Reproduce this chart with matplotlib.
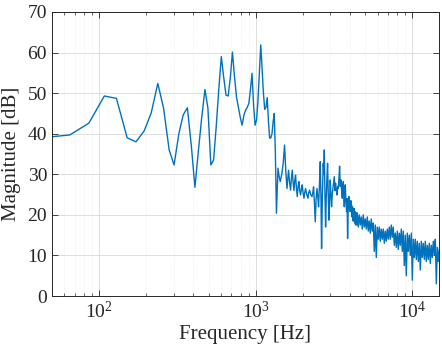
import numpy as np
import matplotlib
matplotlib.use("Agg")
import matplotlib.pyplot as plt
from matplotlib.ticker import LogLocator, MultipleLocator

plt.rcParams['font.family'] = ['Liberation Serif', 'DejaVu Serif']
plt.rcParams['mathtext.fontset'] = 'custom'
plt.rcParams['mathtext.rm'] = 'Liberation Serif'
plt.rcParams['mathtext.it'] = 'Liberation Serif:italic'

# low frequency part (coarse FFT bins)
freq_low = [43, 65, 86, 108, 129, 151, 172, 194, 215, 237, 258, 280, 301, 323, 344,
            366, 388, 409, 431, 452, 474, 495, 517, 538, 560, 581, 603, 624, 646, 667,
            689, 710, 732, 754, 775, 797, 818, 840, 861, 883, 904, 926, 947, 969, 990,
            1012, 1033, 1055, 1077, 1098, 1120, 1141, 1163, 1184, 1206, 1227, 1249,
            1270, 1292, 1313, 1335, 1356]
mag_low = [39.0, 39.7, 42.6, 49.3, 48.7, 39.0, 38.0, 40.7, 45.1, 52.4, 46.3, 36.0,
           32.3, 40.0, 44.6, 46.4, 37.0, 26.8, 36.0, 44.0, 50.9, 46.3, 32.3, 33.5,
           42.0, 51.0, 59.0, 54.0, 49.5, 49.3, 54.0, 60.1, 54.0, 49.0, 46.5, 44.0,
           42.1, 44.5, 45.8, 46.5, 47.5, 51.0, 54.9, 47.0, 42.1, 43.4, 48.0, 55.0,
           61.9, 56.0, 50.0, 46.0, 46.5, 48.9, 43.0, 38.9, 39.0, 40.0, 43.0, 45.0,
           35.0, 20.4]

# mid part (1.4 - 4.4 kHz)
freq_mid = [1387, 1410, 1434, 1471, 1500, 1528, 1555, 1583, 1620, 1645, 1669, 1690,
            1711, 1733, 1754, 1775, 1796, 1820, 1842, 1865, 1888, 1910, 1933, 1960,
            1982, 2005, 2032, 2055, 2081, 2118, 2156, 2180, 2208, 2245, 2287, 2315,
            2341, 2370, 2400, 2430, 2461, 2490, 2519, 2550, 2583, 2610, 2633, 2665,
            2700, 2720, 2740, 2765, 2793, 2820, 2851, 2876, 2905, 2935, 2962, 2992,
            3020, 3050, 3080, 3113, 3145, 3174, 3205, 3235, 3270, 3303, 3335, 3367,
            3400, 3432, 3467, 3503, 3535, 3571, 3598, 3624, 3650, 3677, 3705, 3732,
            3768, 3804, 3832, 3860, 3900, 3940, 3978, 4016, 4050, 4093, 4120, 4150,
            4185, 4216, 4240, 4260, 4285, 4304, 4340, 4370, 4410]
mag_mid = [31.5, 29.5, 28.2, 30.3, 33.0, 37.2, 31.0, 26.5, 31.0, 28.0, 26.1, 29.0,
           31.0, 28.0, 26.0, 28.5, 29.8, 26.5, 24.5, 27.0, 28.2, 26.0, 24.9, 26.5,
           27.4, 25.5, 24.1, 25.5, 26.5, 25.0, 24.1, 25.5, 26.1, 25.0, 24.5, 25.5,
           26.9, 23.0, 18.3, 24.0, 26.5, 24.5, 22.0, 27.0, 33.1, 24.0, 11.7, 25.0,
           32.7, 30.0, 36.0, 26.0, 17.0, 24.0, 29.4, 32.7, 25.0, 18.7, 24.0, 28.6,
           25.0, 22.0, 25.0, 26.5, 28.0, 29.4, 26.0, 27.8, 26.0, 24.9, 27.0, 26.5,
           29.0, 32.0, 27.0, 28.6, 26.0, 24.1, 27.0, 28.2, 25.0, 22.0, 26.0, 27.4,
           23.0, 20.8, 24.0, 14.2, 23.0, 24.5, 21.0, 20.8, 23.5, 22.4, 19.5, 22.0,
           18.5, 21.5, 18.5, 21.5, 18.0, 20.8, 17.5, 20.5, 17.5]

# high part (dense band)
freq_high = [4451, 4517, 4584, 4652, 4721, 4791, 4862, 4934, 5007, 5081, 5156, 5233,
             5311, 5390, 5469, 5550, 5633, 5716, 5801, 5887, 5974, 6062, 6152, 6243,
             6336, 6430, 6525, 6622, 6720, 6819, 6920, 7023, 7127, 7232, 7339, 7448,
             7558, 7671, 7784, 7900, 8017, 8136, 8256, 8378, 8502, 8628, 8756, 8887,
             9018, 9152, 9288, 9425, 9566, 9707, 9851, 9997, 10145, 10295, 10447,
             10602, 10759, 10918, 11080, 11244, 11410, 11579, 11750, 11927, 12102,
             12281, 12463, 12648, 12837, 13027, 13220, 13415, 13614, 13817, 14021,
             14229, 14439, 14653, 14872]
mag_high = [20.5, 17.0, 20.0, 17.5, 19.5, 16.5, 20.0, 17.0, 19.0, 16.5, 19.5, 16.0,
            18.5, 15.5, 19.0, 16.0, 18.0, 11.0, 17.5, 9.5, 17.0, 14.0, 17.0, 13.5,
            16.5, 14.0, 16.5, 13.0, 16.0, 13.5, 16.5, 14.0, 17.0, 14.0, 17.5, 14.5,
            17.0, 12.5, 15.5, 12.0, 16.0, 11.5, 15.5, 12.5, 16.5, 11.0, 16.0, 7.5,
            15.0, 5.0, 15.5, 11.0, 15.0, 10.0, 15.5, 3.9, 14.0, 9.5, 14.0, 9.0,
            13.5, 8.5, 13.0, 6.4, 13.5, 9.5, 13.0, 9.0, 13.5, 8.5, 12.5, 9.0,
            13.0, 8.0, 12.5, 9.5, 13.5, 10.0, 14.0, 3.0, 12.0, 8.5, 11.5]

freq = freq_low + freq_mid + freq_high
mag = mag_low + mag_mid + mag_high

fig = plt.figure(figsize=(4.42, 3.61), dpi=100)
ax = fig.add_axes([0.1176, 0.180, 0.8756, 0.7868])

ax.semilogx(freq, mag, color='#0072BD', lw=1.0)

ax.set_xlim(50, 14800)
ax.set_ylim(0, 70)
ax.yaxis.set_major_locator(MultipleLocator(10))
ax.xaxis.set_major_locator(LogLocator(base=10))
ax.xaxis.set_minor_locator(LogLocator(base=10, subs=np.arange(2, 10)))

ax.grid(True, which='major', color='#d9d9d9', lw=0.6)
ax.grid(True, which='minor', axis='x', color='#e6e6e6', lw=0.5, ls=':')
ax.set_axisbelow(True)

ax.tick_params(which='both', direction='in', top=True, right=True, colors='#262626',
               labelsize=14)
ax.tick_params(which='major', length=4, width=0.6)
ax.tick_params(which='minor', length=2.2, width=0.5)
for s in ax.spines.values():
    s.set_color('#262626')
    s.set_linewidth(0.7)

ax.set_xlabel('Frequency [Hz]', fontsize=15, color='#262626', labelpad=2)
ax.set_ylabel('Magnitude [dB]', fontsize=15, color='#262626', labelpad=5)

fig.savefig('out.png', dpi=100)
